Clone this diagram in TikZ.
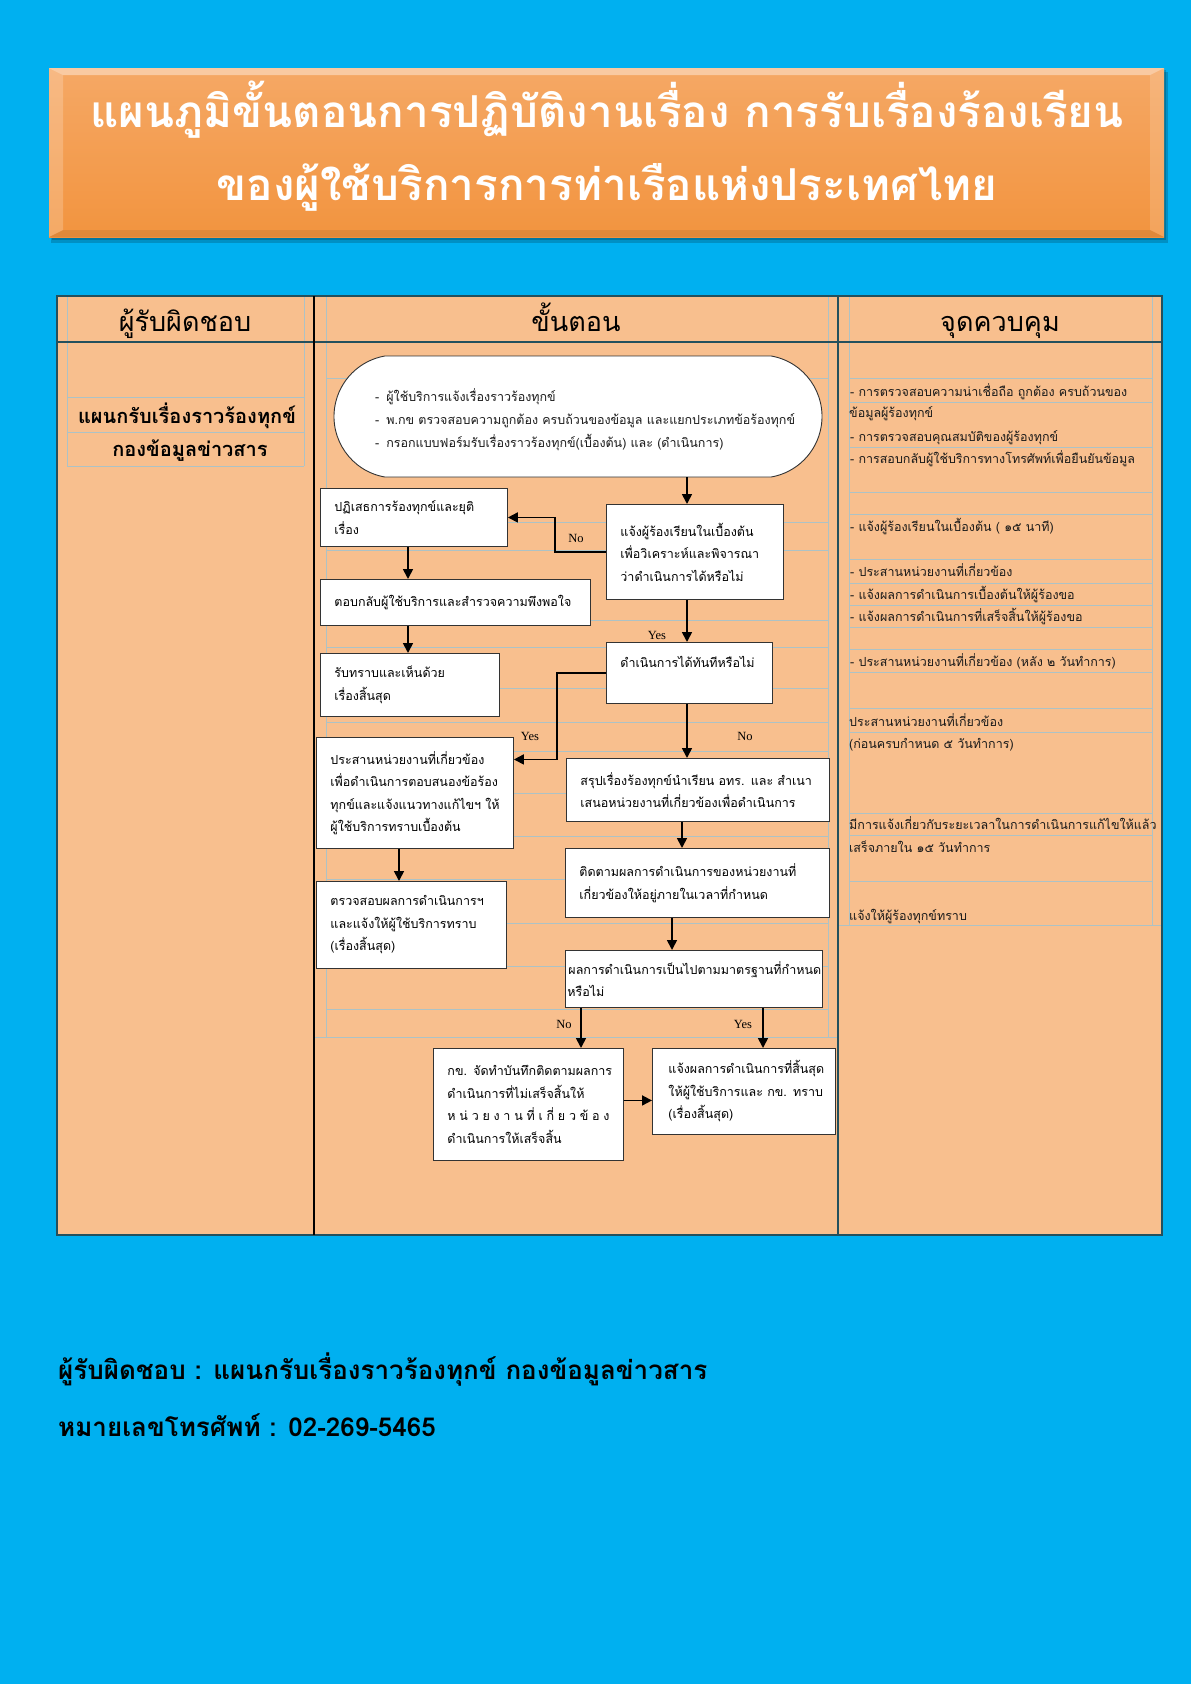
\documentclass[tikz,border=0pt]{standalone}
\usepackage{fontspec}
\newfontfamily\thaifont[Script=Thai]{Loma}
\newfontfamily\latinserif{Liberation Serif}
\usetikzlibrary{arrows.meta,shapes.misc}
\definecolor{bgblue}{HTML}{00B0F0}
\definecolor{peach}{HTML}{F8BF8E}
\definecolor{gridgray}{HTML}{ADC2C5}
\definecolor{tborder}{HTML}{24505D}
\definecolor{bannerTop}{HTML}{F5A865}
\definecolor{bannerBot}{HTML}{F2943F}
\definecolor{txtdark}{HTML}{1A1A1A}
\newcommand\myflowfont{\thaifont\fontsize{12.5}{22.5}\selectfont}
\newcommand\mycellfont{\thaifont\fontsize{12.5}{15}\selectfont}
\begin{document}
\begin{tikzpicture}[x=1pt,y=-1pt,
  gridline/.style={draw=gridgray,line width=0.7pt},
  flowbox/.style={draw=black!80,fill=white,line width=0.9pt,inner xsep=14pt,inner ysep=0pt,align=left,anchor=north west,font=\myflowfont},
  arr/.style={draw=black,line width=1.7pt,-{Triangle[length=10pt,width=10pt]}},
  yn/.style={font=\latinserif\fontsize{12.5}{14}\selectfont,inner sep=0pt},
  cell/.style={anchor=base west,inner sep=0pt,font=\mycellfont,text=txtdark},
  hdr/.style={anchor=base,inner sep=0pt,font=\thaifont\fontsize{27}{30}\selectfont},
  dept/.style={anchor=base,inner sep=0pt,font=\thaifont\bfseries\fontsize{20}{24}\selectfont},
  titletext/.style={anchor=base,inner sep=0pt,text=white,font=\thaifont\bfseries\fontsize{44}{52}\selectfont},
  foot/.style={anchor=base west,inner sep=0pt,font=\thaifont\bfseries\fontsize{26}{30}\selectfont},
]
\fill[bgblue] (0,0) rectangle (1191,1684);
\useasboundingbox (0,0) rectangle (1191,1684);

% banner
\fill[black,opacity=0.18] (51,72) rectangle (1168,243);
\fill[black,opacity=0.18] (52,70) rectangle (1166,240);
\shade[top color=bannerTop,bottom color=bannerBot] (49,68) rectangle (1164,237);
\fill[white,opacity=0.40] (49,68) -- (1164,68) -- (1150,75) -- (63,75) -- cycle;
\fill[white,opacity=0.20] (49,68) -- (63,75) -- (63,230) -- (49,237) -- cycle;
\fill[white,opacity=0.15] (1164,68) -- (1150,75) -- (1150,230) -- (1164,237) -- cycle;
\fill[black,opacity=0.08] (49,237) -- (63,230) -- (1150,230) -- (1164,237) -- cycle;
\node[titletext] (title1) at (607,127) {แผนภูมิขั้นตอนการปฏิบัติงานเรื่อง การรับเรื่องร้องเรียน};
\node[titletext] (title2) at (607,200) {ของผู้ใช้บริการการท่าเรือแห่งประเทศไทย};

% table
\fill[peach] (57,296) rectangle (1162,1235);
\foreach \x in {67,304} \draw[gridline] (\x,296) -- (\x,466);
\foreach \y in {397,432,466} \draw[gridline] (67,\y) -- (304,\y);
\foreach \x in {326,828} \draw[gridline] (\x,296) -- (\x,1037);
\foreach \y in {378,522,550,620,647,688,722,751,793,836,879,923,966,1009} \draw[gridline] (326,\y) -- (828,\y);
\draw[gridline] (314,1037) -- (838,1037);
\foreach \x in {849,1152} \draw[gridline] (\x,296) -- (\x,925);
\foreach \y in {378,402,447,492,514,559,583,605,627,649,672,708,732,813,835,881} \draw[gridline] (849,\y) -- (1152,\y);
\draw[gridline] (838,925) -- (1162,925);
\draw[tborder,line width=1.5pt] (57,296) rectangle (1162,1235);
\draw[tborder,line width=2pt] (57,342) -- (1162,342);
\draw[black,line width=1.2pt] (314,296) -- (314,1235);
\draw[tborder,line width=2pt] (838,296) -- (838,1235);

% headers
\node[hdr] (h1) at (185,331) {ผู้รับผิดชอบ};
\node[hdr] (h2) at (576,331) {ขั้นตอน};
\node[hdr] (h3) at (1000,331) {จุดควบคุม};
\node[dept] (dept1) at (187,423) {แผนกรับเรื่องราวร้องทุกข์};
\node[dept] (dept2) at (190,456) {กองข้อมูลข่าวสาร};

% control points column
\node[cell] (rc1) at (850,396.5) {- การตรวจสอบความน่าเชื่อถือ ถูกต้อง ครบถ้วนของ};
\node[cell] (rc2) at (849,417.5) {ข้อมูลผู้ร้องทุกข์};
\node[cell] (rc3) at (850,441.5) {- การตรวจสอบคุณสมบัติของผู้ร้องทุกข์};
\node[cell] (rc4) at (850,463.5) {- การสอบกลับผู้ใช้บริการทางโทรศัพท์เพื่อยืนยันข้อมูล};
\node[cell] (rc5) at (850,531.5) {- แจ้งผู้ร้องเรียนในเบื้องต้น ( ๑๕ นาที)};
\node[cell] (rc6) at (850,576.5) {- ประสานหน่วยงานที่เกี่ยวข้อง};
\node[cell] (rc7) at (850,599.5) {- แจ้งผลการดำเนินการเบื้องต้นให้ผู้ร้องขอ};
\node[cell] (rc8) at (850,621.5) {- แจ้งผลการดำเนินการที่เสร็จสิ้นให้ผู้ร้องขอ};
\node[cell] (rc9) at (850,666.5) {- ประสานหน่วยงานที่เกี่ยวข้อง (หลัง ๒ วันทำการ)};
\node[cell] (rc10) at (849,726.5) {ประสานหน่วยงานที่เกี่ยวข้อง};
\node[cell] (rc11) at (849,748.5) {(ก่อนครบกำหนด ๕ วันทำการ)};
\node[cell] (rc12) at (849,829.5) {มีการแจ้งเกี่ยวกับระยะเวลาในการดำเนินการแก้ไขให้แล้ว};
\node[cell] (rc13) at (849,852.5) {เสร็จภายใน ๑๕ วันทำการ};
\node[cell] (rc14) at (849,920.5) {แจ้งให้ผู้ร้องทุกข์ทราบ};

% start terminator
\node[draw=black!80,fill=white,line width=0.9pt,rounded rectangle,rounded rectangle arc length=160,
      minimum width=488pt,minimum height=121pt,inner sep=0pt] (start) at (578,416.5) {};
\node[cell] (s1) at (375,401.5) {-\hspace{7pt}ผู้ใช้บริการแจ้งเรื่องราวร้องทุกข์};
\node[cell] (s2) at (375,424.5) {-\hspace{7pt}พ.กข ตรวจสอบความถูกต้อง ครบถ้วนของข้อมูล และแยกประเภทข้อร้องทุกข์};
\node[cell] (s3) at (375,447.5) {-\hspace{7pt}กรอกแบบฟอร์มรับเรื่องราวร้องทุกข์(เบื้องต้น) และ (ดำเนินการ)};

% flow boxes
\node[flowbox,text width=159pt,minimum height=58pt] (reject) at (320,488)
  {\mbox{ปฏิเสธการร้องทุกข์และยุติ}\\\mbox{เรื่อง}};
\node[flowbox,text width=149pt,minimum height=95pt] (notify) at (606,504)
  {\mbox{แจ้งผู้ร้องเรียนในเบื้องต้น}\\\mbox{เพื่อวิเคราะห์และพิจารณา}\\\mbox{ว่าดำเนินการได้หรือไม่}};
\node[flowbox,text width=242pt,minimum height=46pt] (reply) at (320,579)
  {\mbox{ตอบกลับผู้ใช้บริการและสำรวจความพึงพอใจ}};
\node[flowbox,text width=151pt,minimum height=63pt] (ack) at (320,653)
  {\mbox{รับทราบและเห็นด้วย}\\\mbox{เรื่องสิ้นสุด}};
\node[flowbox,text width=138pt,minimum height=61pt] (immed) at (606,642)
  {\mbox{ดำเนินการได้ทันทีหรือไม่}\\\mbox{}};
\node[flowbox,text width=169pt,minimum height=111pt] (coord) at (316,737)
  {\mbox{ประสานหน่วยงานที่เกี่ยวข้อง}\\\mbox{เพื่อดำเนินการตอบสนองข้อร้อง}\\\mbox{ทุกข์และแจ้งแนวทางแก้ไขฯ ให้}\\\mbox{ผู้ใช้บริการทราบเบื้องต้น}};
\node[flowbox,text width=235pt,minimum height=63pt] (summ) at (566,758)
  {\mbox{สรุปเรื่องร้องทุกข์นำเรียน อทร. และ สำเนา}\\\mbox{เสนอหน่วยงานที่เกี่ยวข้องเพื่อดำเนินการ}};
\node[flowbox,text width=236pt,minimum height=69pt] (follow) at (565,848)
  {\mbox{ติดตามผลการดำเนินการของหน่วยงานที่}\\\mbox{เกี่ยวข้องให้อยู่ภายในเวลาที่กำหนด}};
\node[flowbox,text width=162pt,minimum height=87pt] (check) at (316,881)
  {\mbox{ตรวจสอบผลการดำเนินการฯ}\\\mbox{และแจ้งให้ผู้ใช้บริการทราบ}\\\mbox{(เรื่องสิ้นสุด)}};
\node[flowbox,inner xsep=2pt,text width=253pt,minimum height=57pt] (result) at (565,950)
  {\mbox{\hspace*{1pt}ผลการดำเนินการเป็นไปตามมาตรฐานที่กำหนด}\\\mbox{หรือไม่}};
\node[flowbox,text width=162pt,minimum height=112pt] (memo) at (433,1048)
  {\mbox{กข. จัดทำบันทึกติดตามผลการ}\\\mbox{ดำเนินการที่ไม่เสร็จสิ้นให้}\\\makebox[162pt][s]{ห\hfill น่\hfill ว\hfill ย\hfill ง\hfill า\hfill น\hfill ที่\hfill เ\hfill กี่\hfill ย\hfill ว\hfill ข้\hfill อ\hfill ง}\\\mbox{ดำเนินการให้เสร็จสิ้น}};
\node[flowbox,inner xsep=16pt,text width=151pt,minimum height=86pt] (final) at (652,1048)
  {\mbox{แจ้งผลการดำเนินการที่สิ้นสุด}\\\mbox{ให้ผู้ใช้บริการและ กข. ทราบ}\\\mbox{(เรื่องสิ้นสุด)}};

% helper columns for connectors
\coordinate (c687) at (687,0);
\coordinate (c408) at (408,0);
\coordinate (c557) at (557,0);
\coordinate (c682) at (682,0);
\coordinate (c672) at (672,0);
\coordinate (c581) at (581,0);
\coordinate (c763) at (763,0);
\coordinate (c399) at (399,0);

% connectors
\draw[arr] (start.south -| c687) -- (notify.north -| c687);
\draw[arr] (notify.west) -- ++(-51,0) |- (reject.east);
\draw[arr] (reject.south -| c408) -- (reply.north -| c408);
\draw[arr] (reply.south -| c408) -- (ack.north -| c408);
\draw[arr] (notify.south -| c687) -- (immed.north -| c687);
\draw[arr] (immed.west) -- (immed.west -| c557) |- ([yshift=33.5pt]coord.east);
\draw[arr] (immed.south -| c687) -- (summ.north -| c687);
\draw[arr] (summ.south -| c682) -- (follow.north -| c682);
\draw[arr] (follow.south -| c672) -- (result.north -| c672);
\draw[arr] (result.south -| c581) -- (memo.north -| c581);
\draw[arr] (result.south -| c763) -- (final.north -| c763);
\draw[arr] ([yshift=4pt]memo.east) -- ([yshift=4pt]memo.east -| final.west);
\draw[arr] (coord.south -| c399) -- (check.north -| c399);

% decision labels
\node[yn] (no1) at (576,538) {No};
\node[yn] (yes1) at (657,635) {Yes};
\node[yn] (yes2) at (530,736) {Yes};
\node[yn] (no2) at (745,736) {No};
\node[yn] (no3) at (564,1024) {No};
\node[yn] (yes3) at (743,1024) {Yes};

% footer
\node[foot] (foot1) at (58,1379) {ผู้รับผิดชอบ : แผนกรับเรื่องราวร้องทุกข์ กองข้อมูลข่าวสาร};
\node[foot] (foot2) at (58,1436) {หมายเลขโทรศัพท์ : 02-269-5465};
\end{tikzpicture}
\end{document}
